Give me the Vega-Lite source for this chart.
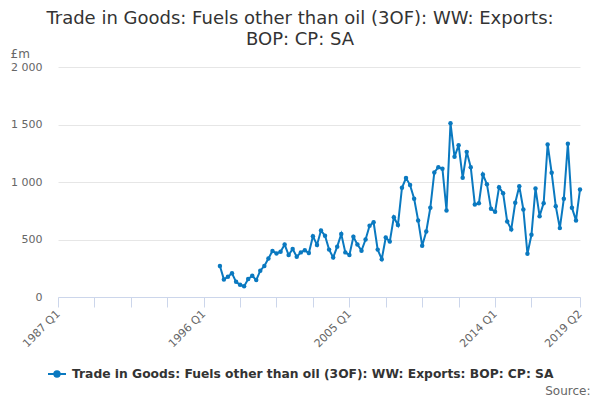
{
  "$schema": "https://vega.github.io/schema/vega-lite/v6.json",
  "autosize": "none",
  "width": 522,
  "height": 230,
  "padding": {"left": 58, "top": 67, "right": 20, "bottom": 103},
  "background": "white",
  "title": {
    "text": ["Trade in Goods: Fuels other than oil (3OF): WW: Exports:", "BOP: CP: SA"],
    "anchor": "middle",
    "frame": "group",
    "dx": -19,
    "offset": -2,
    "fontSize": 18,
    "fontWeight": "normal",
    "color": "#333333",
    "lineHeight": 21
  },
  "config": {
    "font": "DejaVu Sans",
    "view": {"stroke": null}
  },
  "data": {
    "format": {"parse": {"date": "date:'%Y-%m-%d'"}},
    "values": [
      {"date": "1997-01-01", "value": 270},
      {"date": "1997-04-01", "value": 153},
      {"date": "1997-07-01", "value": 176},
      {"date": "1997-10-01", "value": 206},
      {"date": "1998-01-01", "value": 132},
      {"date": "1998-04-01", "value": 106},
      {"date": "1998-07-01", "value": 94},
      {"date": "1998-10-01", "value": 156},
      {"date": "1999-01-01", "value": 185},
      {"date": "1999-04-01", "value": 147},
      {"date": "1999-07-01", "value": 229},
      {"date": "1999-10-01", "value": 270},
      {"date": "2000-01-01", "value": 335},
      {"date": "2000-04-01", "value": 400},
      {"date": "2000-07-01", "value": 379},
      {"date": "2000-10-01", "value": 394},
      {"date": "2001-01-01", "value": 456},
      {"date": "2001-04-01", "value": 365},
      {"date": "2001-07-01", "value": 417},
      {"date": "2001-10-01", "value": 350},
      {"date": "2002-01-01", "value": 388},
      {"date": "2002-04-01", "value": 406},
      {"date": "2002-07-01", "value": 382},
      {"date": "2002-10-01", "value": 529},
      {"date": "2003-01-01", "value": 453},
      {"date": "2003-04-01", "value": 579},
      {"date": "2003-07-01", "value": 532},
      {"date": "2003-10-01", "value": 412},
      {"date": "2004-01-01", "value": 344},
      {"date": "2004-04-01", "value": 438},
      {"date": "2004-07-01", "value": 547},
      {"date": "2004-10-01", "value": 388},
      {"date": "2005-01-01", "value": 365},
      {"date": "2005-04-01", "value": 523},
      {"date": "2005-07-01", "value": 456},
      {"date": "2005-10-01", "value": 403},
      {"date": "2006-01-01", "value": 500},
      {"date": "2006-04-01", "value": 620},
      {"date": "2006-07-01", "value": 650},
      {"date": "2006-10-01", "value": 412},
      {"date": "2007-01-01", "value": 329},
      {"date": "2007-04-01", "value": 517},
      {"date": "2007-07-01", "value": 482},
      {"date": "2007-10-01", "value": 694},
      {"date": "2008-01-01", "value": 626},
      {"date": "2008-04-01", "value": 950},
      {"date": "2008-07-01", "value": 1034},
      {"date": "2008-10-01", "value": 973},
      {"date": "2009-01-01", "value": 854},
      {"date": "2009-04-01", "value": 666},
      {"date": "2009-07-01", "value": 446},
      {"date": "2009-10-01", "value": 570},
      {"date": "2010-01-01", "value": 776},
      {"date": "2010-04-01", "value": 1083},
      {"date": "2010-07-01", "value": 1129},
      {"date": "2010-10-01", "value": 1115},
      {"date": "2011-01-01", "value": 753},
      {"date": "2011-04-01", "value": 1511},
      {"date": "2011-07-01", "value": 1219},
      {"date": "2011-10-01", "value": 1320},
      {"date": "2012-01-01", "value": 1036},
      {"date": "2012-04-01", "value": 1262},
      {"date": "2012-07-01", "value": 1129},
      {"date": "2012-10-01", "value": 805},
      {"date": "2013-01-01", "value": 816},
      {"date": "2013-04-01", "value": 1065},
      {"date": "2013-07-01", "value": 981},
      {"date": "2013-10-01", "value": 767},
      {"date": "2014-01-01", "value": 741},
      {"date": "2014-04-01", "value": 955},
      {"date": "2014-07-01", "value": 903},
      {"date": "2014-10-01", "value": 657},
      {"date": "2015-01-01", "value": 588},
      {"date": "2015-04-01", "value": 819},
      {"date": "2015-07-01", "value": 964},
      {"date": "2015-10-01", "value": 761},
      {"date": "2016-01-01", "value": 376},
      {"date": "2016-04-01", "value": 541},
      {"date": "2016-07-01", "value": 944},
      {"date": "2016-10-01", "value": 703},
      {"date": "2017-01-01", "value": 816},
      {"date": "2017-04-01", "value": 1326},
      {"date": "2017-07-01", "value": 1080},
      {"date": "2017-10-01", "value": 790},
      {"date": "2018-01-01", "value": 599},
      {"date": "2018-04-01", "value": 854},
      {"date": "2018-07-01", "value": 1332},
      {"date": "2018-10-01", "value": 776},
      {"date": "2019-01-01", "value": 666},
      {"date": "2019-04-01", "value": 935}
    ]
  },
  "mark": {"type": "line", "strokeWidth": 2, "point": {"filled": true, "size": 20}},
  "encoding": {
    "x": {
      "field": "date",
      "type": "temporal",
      "scale": {"domain": [{"year": 1987, "quarter": 1}, {"year": 2019, "quarter": 2}]},
      "axis": {
        "title": "Source:",
        "titleX": 532,
        "titleY": 97,
        "titleAlign": "right",
        "titleAnchor": null,
        "titleBaseline": "alphabetic",
        "titleFontSize": 12,
        "titleFontWeight": "normal",
        "titleColor": "#666666",
        "values": [
          {"year": 1987, "quarter": 1}, {"year": 1989, "quarter": 2}, {"year": 1991, "quarter": 3},
          {"year": 1993, "quarter": 4}, {"year": 1996, "quarter": 1}, {"year": 1998, "quarter": 2},
          {"year": 2000, "quarter": 3}, {"year": 2002, "quarter": 4}, {"year": 2005, "quarter": 1},
          {"year": 2007, "quarter": 2}, {"year": 2009, "quarter": 3}, {"year": 2011, "quarter": 4},
          {"year": 2014, "quarter": 1}, {"year": 2016, "quarter": 2}, {"year": 2019, "quarter": 2}
        ],
        "format": "%Y Q%q",
        "labelExpr": "indexof([1987,1996,2005,2014,2019], year(datum.value)) >= 0 ? datum.label : ''",
        "labelAngle": -45,
        "labelAlign": "right",
        "labelBaseline": "middle",
        "labelPadding": 5,
        "labelFontSize": 11,
        "labelColor": "#666666",
        "labelOverlap": false,
        "labelFlush": false,
        "labelBound": false,
        "grid": false,
        "domainColor": "#ccd6eb",
        "tickColor": "#ccd6eb",
        "tickSize": 10
      }
    },
    "y": {
      "field": "value",
      "type": "quantitative",
      "scale": {"domain": [0, 2000], "nice": false},
      "axis": {
        "title": "£m",
        "titleAngle": 0,
        "titleX": -48,
        "titleY": -10,
        "titleAlign": "left",
        "titleBaseline": "alphabetic",
        "titleFontSize": 12,
        "titleFontWeight": "normal",
        "titleColor": "#666666",
        "values": [0, 500, 1000, 1500, 2000],
        "labelExpr": "replace(format(datum.value, ','), ',', ' ')",
        "labelFontSize": 11,
        "labelColor": "#666666",
        "labelPadding": 16,
        "ticks": false,
        "domain": false,
        "gridColor": "#e6e6e6"
      }
    },
    "color": {
      "datum": "Trade in Goods: Fuels other than oil (3OF): WW: Exports: BOP: CP: SA",
      "scale": {"range": ["#0a79c0"]},
      "legend": {
        "orient": "none",
        "legendX": -11,
        "legendY": 297,
        "title": null,
        "padding": 0,
        "labelFontSize": 12.3,
        "labelFontWeight": "bold",
        "labelColor": "#333333",
        "labelLimit": 1000,
        "labelOffset": 5,
        "symbolType": "M-1,0H1M0.3,0A0.3,0.3 0 1,1 -0.3,0A0.3,0.3 0 1,1 0.3,0Z",
        "symbolSize": 324,
        "symbolStrokeWidth": 2,
        "symbolFillColor": "#0a79c0",
        "symbolStrokeColor": "#0a79c0"
      }
    }
  }
}
